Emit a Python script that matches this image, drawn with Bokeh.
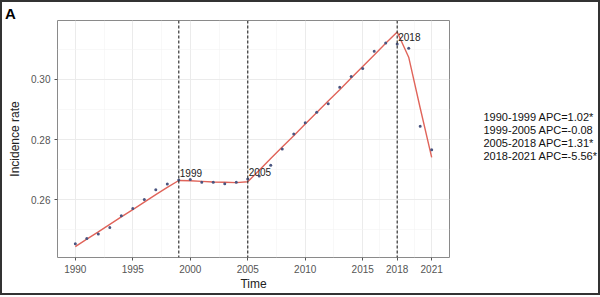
from bokeh.plotting import figure
from bokeh.layouts import column, row
from bokeh.models import (Range1d, FixedTicker, NumeralTickFormatter, Label, Span,
                          ColumnDataSource, Div)
from bokeh.core.properties import value
from bokeh.embed import file_html
from bokeh.resources import INLINE

years = list(range(1990, 2022))
observed = [0.2454, 0.2471, 0.2486, 0.2508, 0.2547, 0.2571, 0.2601, 0.2633, 0.2652, 0.2666,
            0.2667, 0.2658, 0.2658, 0.2653, 0.2658, 0.2669, 0.2679, 0.2715, 0.2769, 0.2819,
            0.2856, 0.2891, 0.2919, 0.2974, 0.3010, 0.3036, 0.3094, 0.3121, 0.3118, 0.3104,
            0.2844, 0.2766]
fitted = [0.2444, 0.2469, 0.2493, 0.2518, 0.2543, 0.2567, 0.2592, 0.2617, 0.2641, 0.2664,
          0.2663, 0.2661, 0.2659, 0.2658, 0.2657, 0.2660,
          0.2698, 0.2737, 0.2775, 0.2813, 0.2852, 0.2890, 0.2928, 0.2966, 0.3005, 0.3043,
          0.3081, 0.3120, 0.3158,
          0.3074, 0.2905, 0.2741]
joinpoints = [1999, 2005, 2018]
x_ticks = [1990, 1995, 2000, 2005, 2010, 2015, 2018, 2021]
y_ticks = [0.26, 0.28, 0.30]
legend_rows = ["1990-1999 APC=1.02*", "1999-2005 APC=-0.08",
               "2005-2018 APC=1.31*", "2018-2021 APC=-5.56*"]

FONT = "Liberation Sans"

# ---- main panel ----
p = figure(width=449, height=274, output_backend="svg", toolbar_location=None,
           x_range=Range1d(1988.45, 2022.55), y_range=Range1d(0.2408, 0.3196),
           min_border_left=55, min_border_right=2, min_border_top=1, min_border_bottom=36,
           x_axis_label="Time", y_axis_label="Incidence rate", margin=0)

p.outline_line_color = "#8a8a8a"
p.outline_line_width = 1
p.background_fill_color = "white"
p.border_fill_color = "white"

minor_x = [(a + b) / 2 for a, b in zip(x_ticks[:-1], x_ticks[1:])]
p.xaxis.ticker = FixedTicker(ticks=x_ticks, minor_ticks=minor_x)
p.yaxis.ticker = FixedTicker(ticks=y_ticks, minor_ticks=[0.25, 0.27, 0.29, 0.31])
p.yaxis.formatter = NumeralTickFormatter(format="0.00")

for ax in (p.xaxis, p.yaxis):
    ax.axis_line_color = None
    ax.major_tick_line_color = "#555555"
    ax.major_tick_out = 3
    ax.major_tick_in = 0
    ax.minor_tick_line_color = None
    ax.major_label_text_font = FONT
    ax.major_label_text_font_size = "10px"
    ax.major_label_text_color = "#555555"
    ax.axis_label_text_font = FONT
    ax.axis_label_text_font_size = "12px"
    ax.axis_label_text_font_style = "normal"
    ax.axis_label_text_color = "#222222"
    ax.major_label_standoff = 3
p.xaxis.axis_label_standoff = 1
p.yaxis.axis_label_standoff = 6

for g in (p.xgrid, p.ygrid):
    g.grid_line_color = "#ebebeb"
    g.grid_line_width = 1
    g.minor_grid_line_color = "#f4f4f4"
    g.minor_grid_line_width = 0.6

for jp in joinpoints:
    p.add_layout(Span(location=jp, dimension="height", line_color="#333333",
                      line_dash="3 2", line_width=1.2))

src = ColumnDataSource(dict(x=years, obs=observed, fit=fitted))
p.line("x", "fit", source=src, line_color="#E0645A", line_width=1.4)
p.scatter("x", "obs", source=src, size=3, color="#4a5580", line_color=None)

for jp in joinpoints:
    i = years.index(jp)
    p.add_layout(Label(x=jp, y=observed[i], text=str(jp), x_offset=1, y_offset=3,
                       text_font=FONT, text_font_size="10px", text_color="#222222",
                       text_baseline="bottom", text_align="left"))

# ---- right text panel ----
side = figure(width=147, height=274, output_backend="svg", toolbar_location=None,
              x_range=Range1d(0, 147), y_range=Range1d(274, 0),
              x_axis_location=None, y_axis_location=None,
              min_border=0, outline_line_color=None, margin=0)
side.grid.visible = False
side.border_fill_color = "white"
side.background_fill_color = "white"
row_y = [111 + 15.3 * k for k in range(len(legend_rows))]
side.text(x=[32] * len(legend_rows), y=row_y, text=legend_rows,
          text_font=value(FONT), text_font_size="11px", text_color="#111111",
          text_baseline="middle", text_align="left")

# ---- panel tag ----
tag = Div(text="A", width=596, height=17, margin=0,
          styles={"font-family": FONT, "font-weight": "bold", "font-size": "15px",
                  "line-height": "15px", "color": "#000000", "padding-left": "3px",
                  "padding-top": "4px", "box-sizing": "border-box"})

layout = column(tag, row(p, side, margin=0, spacing=0), margin=0, spacing=0,
                styles={"border": "2px solid #333333"})

open("out.html", "w").write(file_html(layout, INLINE))
